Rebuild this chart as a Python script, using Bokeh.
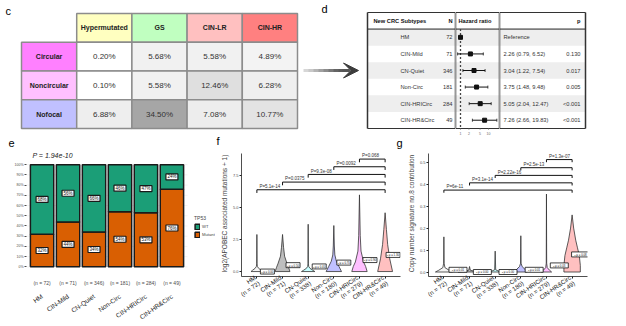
import math
from bokeh.plotting import figure
from bokeh.layouts import row, column
from bokeh.models import (Range1d, ColumnDataSource, Arrow, VeeHead, FixedTicker,
                          Legend, LegendItem, LinearAxis, NumeralTickFormatter,
                          LinearColorMapper, PrintfTickFormatter)
from bokeh.transform import transform
from bokeh.core.properties import value
from bokeh.embed import file_html
from bokeh.resources import INLINE

FONT = "Liberation Sans"

# ---------------- panel c: table ----------------
C_ROWS = ["Circular", "Noncircular", "Nofocal"]
C_COLS = ["Hypermutated", "GS", "CIN-LR", "CIN-HR"]
C_VALUES = [[0.20, 5.68, 5.58, 4.89],
            [0.10, 5.58, 12.46, 6.28],
            [6.88, 34.50, 7.08, 10.77]]
C_COL_COLORS = ["#FFFFC0", "#C0FFC0", "#FFC0C0", "#FF8080"]
C_ROW_COLORS = ["#FF80FF", "#FFC0FF", "#C0C0FF"]

# ---------------- panel d: forest table ----------------
D_SUBTYPES = ["HM", "CIN-Mild", "CN-Quiet", "Non-Circ", "CIN-HRICirc", "CIN-HR&Circ"]
D_N = [72, 71, 346, 181, 284, 49]
D_HR = [1.0, 2.26, 3.04, 3.75, 5.05, 7.26]
D_LO = [None, 0.79, 1.22, 1.48, 2.04, 2.66]
D_HI = [None, 6.52, 7.54, 9.48, 12.47, 19.83]
D_P = ["", "0.130", "0.017", "0.005", "<0.001", "<0.001"]
D_TICKS = [1, 2, 5, 10]

# ---------------- panel e: stacked bars ----------------
E_GROUPS = ["HM", "CIN-Mild", "CN-Quiet", "Non-Circ", "CIN-HRICirc", "CIN-HR&Circ"]
E_N = [72, 71, 346, 181, 284, 49]
E_MUTANT = [32, 44, 34, 54, 53, 76]
E_WT = [68, 56, 66, 46, 47, 24]
E_YTICKS = [0, 0.1, 0.2, 0.3, 0.4, 0.5, 0.6, 0.7, 0.8, 0.9, 1.0]
E_PVAL = "P = 1.94e-10"

# ---------------- panels f, g: violins ----------------
V_GROUPS = ["HM", "CIN-Mild", "CN-Quiet", "Non-Circ", "CIN-HRICirc", "CIN-HR&Circ"]
V_N = [72, 71, 338, 180, 279, 49]
V_COLORS = ["#F4F4F4", "#BEBEBE", "#C8FFFF", "#C0C0FF", "#FFC0FF", "#FFC0C0"]
F_LEVELS = [
    [0, 0.1, 0.25, 0.4, 0.6, 2.9],
    [0, 0.3, 0.6, 1.2, 1.9, 2.9],
    [0, 0.1, 0.25, 0.4, 0.6, 3.7],
    [0, 0.4, 0.8, 1.3, 2.0, 3.6],
    [0, 0.4, 0.75, 1.6, 2.8, 6.0],
    [0, 1.0, 2.1, 3.3, 4.6],
]
F_HALF = [
    [0.23, 0.17, 0.07, 0.02, 0.008, 0.0],
    [0.29, 0.24, 0.18, 0.08, 0.04, 0.0],
    [0.26, 0.18, 0.07, 0.02, 0.008, 0.0],
    [0.30, 0.20, 0.10, 0.04, 0.02, 0.0],
    [0.30, 0.24, 0.16, 0.06, 0.03, 0.0],
    [0.29, 0.18, 0.10, 0.05, 0.0],
]
F_MEANS = [0.0, 0.5, 0.4, 0.7, 0.9, 1.3]
F_YTICKS = [0, 2.5, 5, 7.5]
F_COMP_FROM = [1, 2, 3, 4, 5]
F_COMP_Y = [6.4, 7.0, 7.6, 8.2, 8.8]
F_COMP_P = ["P=5.1e-14", "P=0.0375", "P=9.3e-08", "P=0.0092", "P=0.068"]

G_LEVELS = [
    [0, 0.008, 0.02, 0.04, 0.16],
    [0, 0.003, 0.008, 0.025],
    [0, 0.003, 0.01, 0.095],
    [0, 0.01, 0.025, 0.04, 0.165],
    [0, 0.008, 0.02, 0.04, 0.355],
    [0, 0.03, 0.075, 0.11, 0.145, 0.2, 0.26],
]
G_HALF = [
    [0.33, 0.2, 0.04, 0.01, 0.0],
    [0.45, 0.2, 0.03, 0.0],
    [0.45, 0.15, 0.02, 0.0],
    [0.25, 0.18, 0.05, 0.01, 0.0],
    [0.2, 0.12, 0.03, 0.008, 0.0],
    [0.32, 0.32, 0.28, 0.21, 0.14, 0.06, 0.0],
]
G_MEANS = [0.01, 0.0, 0.0, 0.01, 0.03, 0.08]
G_YTICKS = [0, 0.1, 0.2, 0.3, 0.4, 0.5]
G_COMP_FROM = [1, 2, 3, 4, 5]
G_COMP_Y = [0.373, 0.406, 0.44, 0.475, 0.512]
G_COMP_P = ["P=6e-11", "P=3.1e-14", "P=2.22e-16", "P=2.5e-13", "P=1.3e-07"]


def lin(p0, p1, d0, d1, P):
    """data value at pixel P for a linear map p0->d0, p1->d1"""
    return d0 + (P - p0) / (p1 - p0) * (d1 - d0)


def mk(w, h, left, right, top, bottom, xr, yr, xlog=False, xaxis=False, yaxis=False):
    kw = dict(width=w, height=h, x_range=Range1d(*xr), y_range=Range1d(*yr), title=None,
              min_border_left=left, min_border_right=right,
              min_border_top=top, min_border_bottom=bottom,
              output_backend="svg", toolbar_location=None,
              background_fill_color="white", border_fill_color="white")
    if xlog:
        kw["x_axis_type"] = "log"
    kw["x_axis_location"] = "below" if xaxis else None
    kw["y_axis_location"] = "left" if yaxis else None
    p = figure(**kw)
    p.outline_line_color = None
    p.grid.visible = False
    return p


def txt(p, x, y, text, size, align="left", style="normal", color="#222222", baseline="middle"):
    p.text(x=x, y=y, text=text, text_font=value(FONT), text_font_size=f"{size}px",
           text_align=align, text_baseline=baseline, text_font_style=style, text_color=color)


TOP_H = 150
# =============== panel c (full-frame figure, table mapped into it) ===============
cxr = (lin(21, 297, 0, 5, 0), lin(21, 297, 0, 5, 300))
cyr = (lin(13, 128, 0, 4, TOP_H), lin(13, 128, 0, 4, 0))
pc = mk(300, TOP_H, 0, 0, 0, 0, cxr, cyr)
GRID = "#8C8C8C"
hx = [i + 1.5 for i in range(len(C_COLS))]
pc.rect(x=hx, y=[0.5] * len(C_COLS), width=1, height=1, fill_color=C_COL_COLORS,
        line_color=GRID, line_width=1.5)
txt(pc, hx, [0.5] * len(C_COLS), C_COLS, 7, "center", "bold")
ry = [r + 1.5 for r in range(len(C_ROWS))]
pc.rect(x=[0.5] * len(C_ROWS), y=ry, width=1, height=1, fill_color=C_ROW_COLORS,
        line_color=GRID, line_width=1.5)
txt(pc, [0.5] * len(C_ROWS), ry, C_ROWS, 7, "center", "bold")
cx, cy, cv, ct = [], [], [], []
for r, vals in enumerate(C_VALUES):
    for c, v in enumerate(vals):
        cx.append(c + 1.5); cy.append(r + 1.5); cv.append(v); ct.append(f"{v:.2f}%")
GRAYS = ["#%02x%02x%02x" % (g, g, g) for g in range(255, 165, -1)]
cmap = LinearColorMapper(palette=GRAYS, low=0, high=max(cv))
csrc = ColumnDataSource(dict(x=cx, y=cy, v=cv, t=ct))
pc.rect("x", "y", width=1, height=1, source=csrc, fill_color=transform("v", cmap),
        line_color=GRID, line_width=1.5)
pc.text("x", "y", text="t", source=csrc, text_font=value(FONT), text_font_size="8px",
        text_align="center", text_baseline="middle", text_color="#333333")
lx_ = [lin(21, 297, 0, 5, g) for g in (5, 8, 216)]
ly_ = [lin(13, 128, 0, 4, g) for g in (10, 142, 140)]
txt(pc, lx_, ly_, ["c", "e", "f"], 11, "left", "normal", "#000000")

# =============== arrow + d letter ===============
pa = mk(60, TOP_H, 0, 0, 0, 0, (300, 360), (TOP_H, 0))
n_seg = 8
sx = [303 + i * 5 for i in range(n_seg)]
shades = ["#%02x%02x%02x" % (g, g, g) for g in [215, 200, 180, 160, 140, 120, 100, 90]]
pa.segment(x0=sx, y0=[70] * n_seg, x1=[s + 5.5 for s in sx], y1=[70] * n_seg,
           line_color=shades, line_width=3)
pa.add_layout(Arrow(end=VeeHead(size=15, fill_color="#3C3C3C", line_color="#3C3C3C"),
                    x_start=342, y_start=70, x_end=358, y_end=70,
                    line_color="#555555", line_width=3))
txt(pa, [321], [8], ["d"], 11, "left", "normal", "#000000")

# =============== panel d ===============
NR = len(D_SUBTYPES)
BOX = "#333333"
dyr = (lin(12, 128, 0, NR + 1, TOP_H), lin(12, 128, 0, NR + 1, 0))
FP_X = (0.663, 24.7)
pdl = mk(95, TOP_H, 0, 0, 0, 0, (-7, 88), dyr)
pfp = mk(44, TOP_H, 0, 0, 0, 0, FP_X, dyr, xlog=True)
pdr = mk(127, TOP_H, 0, 0, 0, 0, (0, 127), dyr)
shade_rows = [i for i in range(NR) if i % 2 == 0]
for p, (x0, x1) in ((pdl, (0, 88)), (pfp, FP_X), (pdr, (0, 86))):
    p.quad(left=[x0] * len(shade_rows), right=[x1] * len(shade_rows),
           top=[i + 1 for i in shade_rows], bottom=[i + 2 for i in shade_rows],
           fill_color="#EEEEEE", line_color=None)
    p.multi_line(xs=[[x0, x1], [x0, x1]], ys=[[0, 0], [NR + 1, NR + 1]], line_color=BOX, line_width=1)
    p.segment(x0=[x0], y0=[1], x1=[x1], y1=[1], line_color="#222222", line_width=1)
pdl.segment(x0=[0, 88], y0=[0, 0], x1=[0, 88], y1=[NR + 1, NR + 1], line_color=BOX, line_width=1.5)
pdr.segment(x0=[0, 86], y0=[0, 0], x1=[0, 86], y1=[NR + 1, NR + 1], line_color=BOX, line_width=1.5)
pfp.segment(x0=list(FP_X), y0=[0, 0], x1=list(FP_X), y1=[NR + 1, NR + 1], line_color=BOX, line_width=1.5)

rows_y = [i + 1.5 for i in range(NR)]
txt(pdl, [6], [0.5], ["New CRC Subtypes"], 5.7, "left", "bold", "#111111")
txt(pdl, [85], [0.5], ["N"], 5.7, "right", "bold", "#111111")
txt(pdl, [33] * NR, rows_y, D_SUBTYPES, 5.7, "left", "normal", "#333333")
txt(pdl, [85] * NR, rows_y, [str(n) for n in D_N], 5.7, "right", "normal", "#333333")
txt(pdl, [29], [lin(12, 128, 0, NR + 1, 142)], ["g"], 11, "left", "normal", "#000000")

hr_lab_x = 10 ** (math.log10(FP_X[0]) + 3 / 44 * (math.log10(FP_X[1]) - math.log10(FP_X[0])))
txt(pfp, [hr_lab_x], [0.5], ["Hazard ratio"], 5.7, "left", "bold", "#111111")
pfp.segment(x0=[1], y0=[1], x1=[1], y1=[NR + 1], line_color="#444444", line_width=1.3, line_dash="2 2")
ci_i = [i for i in range(NR) if D_LO[i] is not None]
pfp.segment(x0=[D_LO[i] for i in ci_i], y0=[rows_y[i] for i in ci_i],
            x1=[D_HI[i] for i in ci_i], y1=[rows_y[i] for i in ci_i], line_color="#111111", line_width=1)
pfp.scatter(x=[D_LO[i] for i in ci_i] + [D_HI[i] for i in ci_i],
            y=[rows_y[i] for i in ci_i] * 2, marker="dash", angle=math.pi / 2, size=3,
            line_color="#111111", line_width=0.8)
pfp.scatter(x=D_HR, y=rows_y, marker="square", size=4, color="#111111")
tick_y0 = NR + 1
tick_y1 = lin(12, 128, 0, NR + 1, 129.5)
pfp.segment(x0=D_TICKS, y0=[tick_y0] * len(D_TICKS), x1=D_TICKS, y1=[tick_y1] * len(D_TICKS),
            line_color="#888888", line_width=0.6)
txt(pfp, D_TICKS, [lin(12, 128, 0, NR + 1, 132.5)] * len(D_TICKS), [str(t) for t in D_TICKS],
    3.5, "center", "normal", "#666666")

hr_text = ["Reference" if D_LO[i] is None else f"{D_HR[i]:.2f} ({D_LO[i]:.2f}, {D_HI[i]:.2f})"
           for i in range(NR)]
txt(pdr, [81], [0.5], ["p"], 5.7, "right", "bold", "#111111")
txt(pdr, [4] * NR, rows_y, hr_text, 5.7, "left", "normal", "#333333")
txt(pdr, [81] * NR, rows_y, D_P, 5.7, "right", "normal", "#333333")

# =============== bottom row: all frames span y 150..290 ===============
BOT_H = 326 - TOP_H
BOT_B = 36
FB = 326 - BOT_B

# ---- panel e ----
exr = (0.4, lin(26, 187, 0.4, 6.6, 215))
eyr = (lin(279.3, 165.7, 0, 1, FB), lin(279.3, 165.7, 0, 1, TOP_H))
pe = mk(215, BOT_H, 26, 0, 0, BOT_B, exr, eyr, xaxis=True, yaxis=True)
ex = [i + 1 for i in range(len(E_GROUPS))]
mut = [v / 100 for v in E_MUTANT]
wt = [v / 100 for v in E_WT]
top = [a + b for a, b in zip(mut, wt)]
pe.segment(x0=[0.4] * len(E_YTICKS), y0=E_YTICKS, x1=[6.6] * len(E_YTICKS), y1=E_YTICKS,
           line_color="#EBEBEB", line_width=0.6)
r_mut = pe.vbar(x=ex, bottom=0, top=mut, width=0.9, fill_color="#D95F02", line_color="#1A1A1A", line_width=1.5)
r_wt = pe.vbar(x=ex, bottom=mut, top=top, width=0.9, fill_color="#1B9E77", line_color="#1A1A1A", line_width=1.5)
lx = ex + ex
ly = [m / 2 for m in mut] + [m + w / 2 for m, w in zip(mut, wt)]
lt = [f"{v}%" for v in E_MUTANT] + [f"{v}%" for v in E_WT]
pe.rect(x=lx, y=ly, width=12, height=6, width_units="screen", height_units="screen",
        fill_color="white", line_color="#1A1A1A", line_width=1.2)
txt(pe, lx, ly, lt, 4.5, "center", "normal", "#111111")
txt(pe, [lin(26, 187, 0.4, 6.6, 32)], [lin(279.3, 165.7, 0, 1, 156)], [E_PVAL], 7,
    "left", "italic", "#222222")
ya = pe.yaxis[0]
ya.ticker = FixedTicker(ticks=E_YTICKS)
ya.formatter = NumeralTickFormatter(format="0%")
ya.axis_line_color = None
ya.major_tick_line_color = "#4D4D4D"
ya.major_tick_out = 2
ya.major_tick_in = 0
ya.minor_tick_line_color = None
ya.major_label_standoff = 1
ya.major_label_text_font = FONT
ya.major_label_text_font_size = "3.5px"
ya.major_label_text_color = "#4D4D4D"
xa = pe.xaxis[0]
xa.ticker = FixedTicker(ticks=ex)
xa.major_label_overrides = {x: f"(n = {n})" for x, n in zip(ex, E_N)}
xa.axis_line_color = None
xa.major_tick_line_color = None
xa.minor_tick_line_color = None
xa.major_label_standoff = -3
xa.major_label_text_font = FONT
xa.major_label_text_font_size = "5px"
xa.major_label_text_color = "#4D4D4D"
xa2 = LinearAxis(ticker=FixedTicker(ticks=ex),
                 major_label_overrides={x: g for x, g in zip(ex, E_GROUPS)},
                 major_label_orientation=math.radians(35),
                 axis_line_color=None, major_tick_line_color=None, minor_tick_line_color=None,
                 major_label_standoff=1, major_label_text_font=FONT,
                 major_label_text_font_size="6.5px", major_label_text_color="#222222")
pe.add_layout(xa2, "below")
leg = Legend(items=[LegendItem(label="WT", renderers=[r_wt]), LegendItem(label="Mutant", renderers=[r_mut])],
             title="TP53", location=(168, FB - 251.5), orientation="vertical",
             glyph_width=6, glyph_height=7, label_text_font=FONT, label_text_font_size="4.2px",
             label_standoff=2, spacing=1, padding=0, margin=0, title_text_font=FONT,
             title_text_font_size="5px", title_text_font_style="normal", title_standoff=2,
             border_line_color=None, background_fill_alpha=0, label_height=7)
pe.add_layout(leg)


# =============== violin helper ===============
def violin_panel(p, levels, halves, means, comp_from, comp_y, comp_p, drop, box_w, ylab,
                 yticks, yfmt, mean_dx, ybounds):
    n = len(V_GROUPS)
    xs_list, ys_list = [], []
    for i in range(n):
        c = i + 1
        lv, hw = levels[i], halves[i]
        xs_list.append([c - w for w in hw] + [c + w for w in hw[::-1]])
        ys_list.append(list(lv) + list(lv[::-1]))
    p.patches(xs=xs_list, ys=ys_list, fill_color=V_COLORS, line_color="#333333", line_width=0.8)
    last = n
    bx = [[f, f, last, last] for f in comp_from]
    by = [[y - drop, y, y, y - drop] for y in comp_y]
    p.multi_line(xs=bx, ys=by, line_color="#111111", line_width=1)
    txt(p, [f + 0.1 for f in comp_from], [y + drop * 0.25 for y in comp_y], comp_p, 4.5,
        "left", "normal", "#333333", baseline="bottom")
    mx = [i + 1 + mean_dx[i] for i in range(n)]
    p.rect(x=mx, y=means, width=box_w, height=5, width_units="screen", height_units="screen",
           fill_color="white", line_color="#111111", line_width=0.8)
    txt(p, mx, means, ["\u25aa \u03bc = %.2f" % v for v in means], 2.8, "center", "normal", "#111111")
    xa = p.xaxis[0]
    xs_t = [i + 1 for i in range(n)]
    xa.ticker = FixedTicker(ticks=xs_t)
    xa.major_label_overrides = {x: f"{g}\n(n = {k})" for x, g, k in zip(xs_t, V_GROUPS, V_N)}
    xa.major_label_orientation = math.radians(35)
    xa.axis_line_color = "#222222"
    xa.axis_line_width = 0.8
    xa.major_tick_line_color = "#222222"
    xa.major_tick_out = 2
    xa.major_tick_in = 0
    xa.minor_tick_line_color = None
    xa.major_label_standoff = 1
    xa.major_label_text_font = FONT
    xa.major_label_text_font_size = "6.2px"
    xa.major_label_text_line_height = 1.0
    xa.major_label_text_color = "#222222"
    ya = p.yaxis[0]
    ya.bounds = ybounds
    ya.ticker = FixedTicker(ticks=yticks)
    ya.formatter = PrintfTickFormatter(format=yfmt)
    ya.axis_line_color = "#222222"
    ya.axis_line_width = 0.8
    ya.major_tick_line_color = "#222222"
    ya.major_tick_out = 2
    ya.major_tick_in = 0
    ya.minor_tick_line_color = None
    ya.major_label_standoff = 1
    ya.major_label_text_font = FONT
    ya.major_label_text_font_size = "4px"
    ya.major_label_text_color = "#4D4D4D"
    ya.axis_label = ylab
    ya.axis_label_text_font = FONT
    ya.axis_label_text_font_size = "6.5px"
    ya.axis_label_text_font_style = "normal"
    ya.axis_label_standoff = 2


fyr = (lin(284.5, 249, 0, 2.5, FB), lin(284.5, 249, 0, 2.5, TOP_H))
pf = mk(189, BOT_H, 26, 4, 0, BOT_B, (0.4, 6.6), fyr, xaxis=True, yaxis=True)
violin_panel(pf, F_LEVELS, F_HALF, F_MEANS, F_COMP_FROM, F_COMP_Y, F_COMP_P, 0.25, 14,
             "log2(APOBEC associated mutations + 1)", F_YTICKS, "%.1f",
             [0.41, 0.41, 0.43, 0.39, 0.41, 0.31], (fyr[0], lin(284.5, 249, 0, 2.5, 153)))

gyr = (lin(285, 260.6, 0, 0.1, FB), lin(285, 260.6, 0, 0.1, TOP_H))
pg = mk(222, BOT_H, 24, 39, 0, BOT_B, (0.4, 6.6), gyr, xaxis=True, yaxis=True)
violin_panel(pg, G_LEVELS, G_HALF, G_MEANS, G_COMP_FROM, G_COMP_Y, G_COMP_P, 0.012, 18,
             "Copy number signature no.8 contribution", G_YTICKS, "%.1f",
             [0.55, 0.5, 0.5, 0.52, 0.5, 0.33], (gyr[0], lin(285, 260.6, 0, 0.1, 153)))

layout = column(row(pc, pa, pdl, pfp, pdr), row(pe, pf, pg))
open("out.html", "w").write(file_html(layout, INLINE))
